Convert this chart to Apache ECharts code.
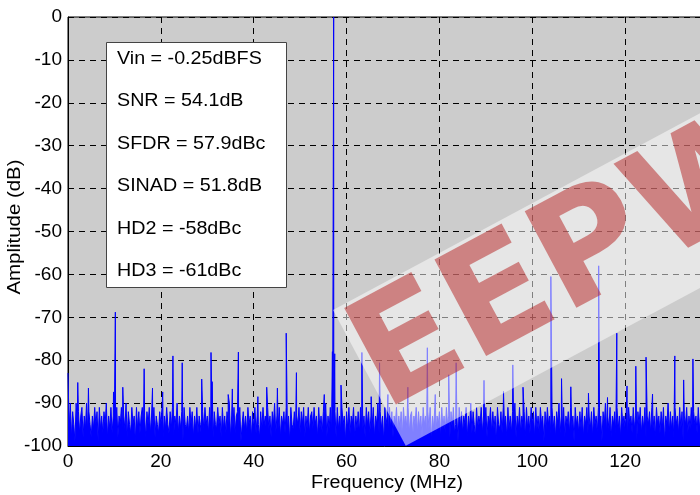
<!DOCTYPE html>
<html>
<head>
<meta charset="utf-8">
<script src="https://cdn.jsdelivr.net/npm/echarts@6/dist/echarts.min.js"></script>
<style>
html,body{margin:0;padding:0;background:#fff;}
#chart{width:700px;height:495px;}
</style>
</head>
<body>
<div id="chart"></div>
<script>
// spectrum noise floor, one value per 0.25 MHz bin (dB)
var binStep = 0.25;
var noiseFloor = [
	-83,-96,-90,-98,-92,-95,-99,-90,-95,-92, -97,-93,-91,-98,-93,-96,-90,-97,-92,-95, -98,-93,-96,-91,-95,-92,-99,-91,-96,-93, -97,-92,-95,-90,-98,-93,-96,-91,-97,-93,
	-92,-96,-91,-98,-93,-95,-91,-97,-93,-96, -90,-98,-92,-95,-97,-91,-95,-93,-99,-91, -96,-92,-97,-93,-91,-96,-93,-98,-92,-95, -91,-97,-93,-96,-91,-98,-93,-95,-97,-92,
	-95,-91,-98,-93,-96,-91,-95,-97,-92,-96, -91,-98,-93,-95,-90,-97,-93,-96,-92,-99, -91,-95,-96,-93,-97,-91,-95,-92,-98,-93, -96,-91,-97,-93,-95,-98,-92,-96,-91,-95,
	-93,-97,-91,-96,-93,-98,-92,-95,-96,-91, -95,-93,-98,-91,-96,-93,-97,-92,-95,-90, -98,-93,-96,-91,-97,-93,-92,-96,-91,-99, -95,-92,-96,-93,-97,-91,-95,-93,-98,-92,
	-96,-91,-97,-93,-95,-98,-92,-96,-91,-95, -93,-97,-91,-96,-93,-98,-92,-95,-90,-97, -93,-96,-91,-98,-93,-95,-92,-97,-91,-96, -93,-99,-91,-95,-96,-92,-97,-93,-95,-91,
	-97,-92,-95,-91,-98,-93,-96,-91,-97,-93, -92,-96,-91,-95,-93,-98,-91,-96,-93,-97, -92,-95,-90,-98,-93,-96,-91,-97,-93,-95, -92,-98,-91,-96,-93,-97,-91,-95,-93,-99,
	-92,-96,-91,-97,-93,-95,-91,-98,-93,-96, -92,-97,-91,-95,-96,-93,-98,-91,-95,-92, -97,-93,-96,-91,-98,-93,-95,-90,-97,-92, -96,-93,-99,-91,-95,-93,-97,-91,-96,-92,
	-98,-93,-95,-91,-97,-93,-96,-92,-98,-91, -95,-93,-96,-91,-97,-93,-92,-98,-93,-95, -91,-97,-92,-96,-93,-98,-91,-95,-93,-97, -92,-96,-91,-99,-93,-96,-91,-97,-93,-95,
	-92,-98,-91,-96,-93,-97,-91,-95,-93,-98, -92,-96,-91,-97,-95,-93,-99,-91,-96,-92, -97,-93,-95,-91,-98,-93,-96,-90,-97,-92, -95,-98,-91,-96,-93,-95,-91,-97,-93,-96,
	-91,-98,-93,-95,-91,-97,-92,-96,-93,-99, -91,-95,-96,-92,-97,-91,-95,-93,-98,-91, -96,-93,-97,-92,-95,-90,-98,-93,-96,-91, -97,-93,-95,-92,-98,-91,-96,-93,-97,-91,
	-95,-92,-98,-91,-96,-93,-97,-91,-95,-93, -99,-92,-96,-91,-95,-93,-97,-91,-96,-93, -98,-92,-95,-90,-97,-93,-96,-91,-98,-93, -95,-92,-97,-91,-96,-93,-99,-91,-95,-93,
	-97,-92,-96,-91,-98,-93,-95,-91,-97,-93, -96,-92,-98,-91,-95,-93,-97,-91,-96,-93, -99,-92,-95,-90,-97,-93,-96,-91,-98,-93, -95,-92,-97,-91,-96,-93,-98,-91,-95,-93,
	-96,-92,-98,-91,-95,-93,-97,-91,-96,-93, -99,-92,-95,-91,-97,-93,-96,-91,-98,-93, -95,-92,-97,-91,-96,-93,-98,-91,-95,-93, -97,-92,-96,-91,-99,-93,-95,-90,-97,-92,
	-96,-93,-98,-91,-95,-93,-97,-91,-96,-92, -99,-93,-95,-91,-97,-93,-96,-91,-98,-92, -95,-93,-97,-91,-96,-93,-99,-91,-95,-92, -97,-93
];
// fundamental, harmonics and other spurs
var spurFreq = [2.1,4.4,9.8,10.2,11.8,16.4,18.2,20.4,22.6,24.6,28.8,30.8,31.05,34.5,35.4,36.7,40.9,42.8,45.1,47.0,49.2,55.2,56.95,57.22,57.45,58.8,
	63.3,65.3,67.1,68.9,73.2,77.4,79.1,82.0,83.6,89.6,93.8,95.8,98.0,104.0,106.3,108.3,112.1,114.3,116.2,118.2,120.4,122.3,124.5,125.9,130.7,132.6,134.6];
var spurLevel = [-85.2,-86.5,-87.4,-68.8,-86.3,-82.0,-86.5,-87.4,-79.0,-80.6,-84.4,-78.2,-85.0,-88.0,-86.7,-78.1,-88.5,-86.3,-86.5,-73.7,-82.9,-88.0,-78.0,0,-78.5,-85.8,
	-78.2,-88.5,-80.6,-88.0,-86.3,-77.1,-88.0,-83.4,-80.6,-84.7,-87.3,-81.1,-86.3,-60.5,-84.3,-86.2,-87.7,-58.0,-88.7,-73.7,-86.0,-81.4,-79.3,-87.9,-79.0,-84.6,-79.7];
var boxLines = ['Vin = -0.25dBFS','SNR = 54.1dB','SFDR = 57.9dBc','SINAD = 51.8dB','HD2 = -58dBc','HD3 = -61dBc'];

var spectrum = [];
for (var i = 0; i < noiseFloor.length; i++) {
	spectrum.push([i * binStep, noiseFloor[i]]);
}
for (var j = 0; j < spurFreq.length; j++) {
	spectrum.push([spurFreq[j], spurLevel[j]]);
}
spectrum.sort(function (a, b) { return a[0] - b[0]; });

var fontName = '"Liberation Sans", Arial, sans-serif';
var graphics = [];
//结果文本框
graphics.push({type:'rect', z:50, shape:{x:106.5, y:42.5, width:180, height:245}, style:{fill:'#fff', stroke:'#444', lineWidth:1}});
for (var k = 0; k < boxLines.length; k++) {
	graphics.push({type:'text', z:51, x:117, y:59 + k * 42.5, scaleX:1.12,
		style:{text:boxLines[k], font:'17.6px ' + fontName, fill:'#000', verticalAlign:'middle'}});
}
// axis titles
graphics.push({type:'text', z:51, x:387, y:483, scaleX:1.12,
	style:{text:'Frequency (MHz)', font:'17.6px ' + fontName, fill:'#000', align:'center', verticalAlign:'middle'}});
graphics.push({type:'text', z:51, x:15, y:227, rotation:Math.PI / 2, scaleX:1.16,
	style:{text:'Amplitude (dB)', font:'17.6px ' + fontName, fill:'#000', align:'center', verticalAlign:'middle'}});
// watermark
graphics.push({type:'group', z:100, x:333, y:310, rotation:0.492, children:[
	{type:'rect', z:100, shape:{x:0, y:0, width:560, height:154}, style:{fill:'rgba(255,255,255,0.5)'}},
	{type:'text', z:101, x:-3, y:74, style:{text:'EEPW', font:'bold 150px "DejaVu Sans", sans-serif', fill:'rgba(180,30,30,0.5)', verticalAlign:'middle'}}
]});

var chart = echarts.init(document.getElementById('chart'));
chart.setOption({
	animation:false,
	backgroundColor:'#fff',
	grid:{left:68, top:17, right:-18, bottom:49, outerBoundsMode:'none', containLabel:false,
		show:true, backgroundColor:'#cccccc', borderColor:'#000', borderWidth:1},
	xAxis:{type:'value', min:0, max:140, interval:20,
		axisLine:{show:true, onZero:false, lineStyle:{color:'#000', width:1}},
		axisTick:{show:false},
		axisLabel:{color:'#000', fontSize:19, fontFamily:fontName, margin:6},
		splitLine:{show:true, lineStyle:{color:'#000', width:1, type:[6,5]}}},
	yAxis:{type:'value', min:-100, max:0, interval:10,
		axisLine:{show:true, lineStyle:{color:'#000', width:1}},
		axisTick:{show:false},
		axisLabel:{color:'#000', fontSize:19, fontFamily:fontName, margin:6},
		splitLine:{show:true, lineStyle:{color:'#000', width:1, type:[6,5]}}},
	series:[{type:'line', data:spectrum, symbol:'none', clip:true,
		lineStyle:{color:'#0000ff', width:1},
		areaStyle:{color:'#0000ff', opacity:1, origin:'start'}}],
	graphic:graphics
});
</script>
</body>
</html>
